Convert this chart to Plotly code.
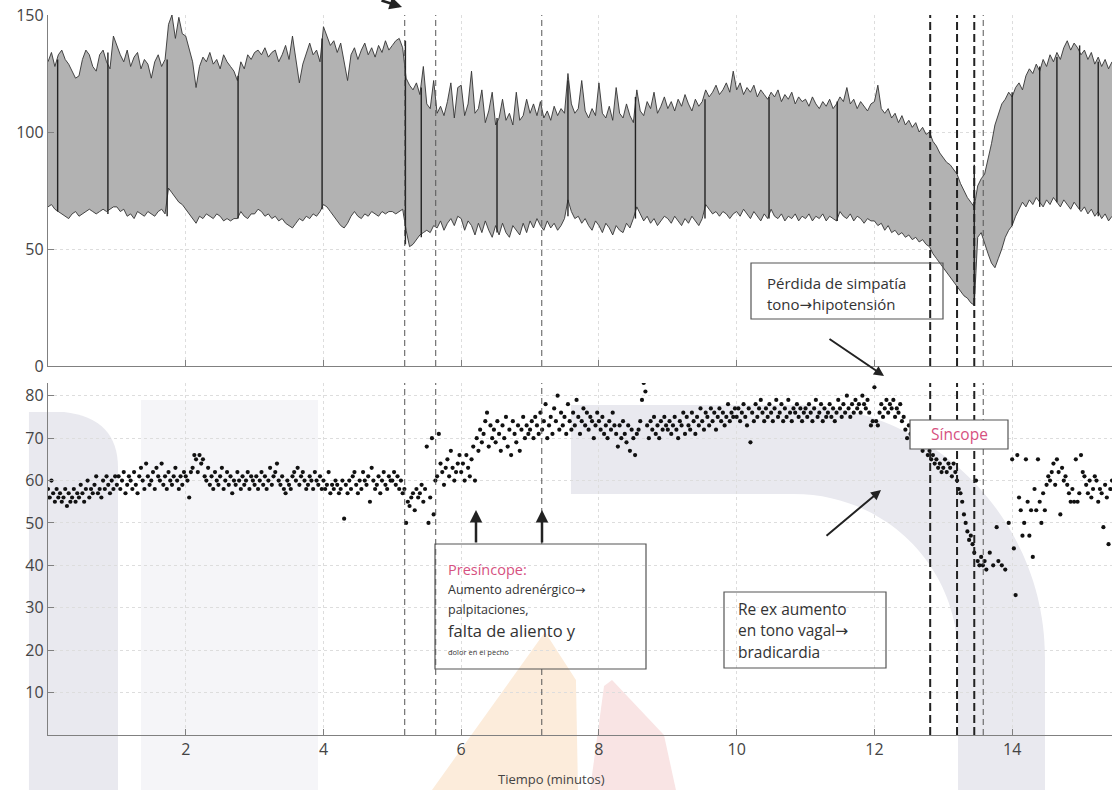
import numpy as np
import plotly.graph_objects as go

FONT = "Open Sans, Noto Sans, DejaVu Sans, sans-serif"
W, H = 1112, 790
ML, MR, MT, MB = 48, 0, 15, 55
PW, PH = W - ML - MR, H - MT - MB

# ---------------- data ----------------
bp_step = 0.05  # minutes between envelope samples
sys_bp = [
    130,134,128,133,135,131,129,126,123,124,131,135,133,128,126,133,135,130,127,141,
    137,133,130,135,128,132,134,127,131,129,123,130,133,128,131,146,150,140,149,142,
    141,136,130,119,128,132,130,134,129,131,127,133,130,128,126,122,130,127,133,131,
    134,135,133,136,132,134,135,130,133,137,131,141,130,121,129,134,138,133,135,130,
    145,141,137,139,134,138,130,122,133,136,131,135,138,133,136,132,137,134,139,135,
    137,139,140,136,123,120,118,121,116,128,112,110,122,108,111,107,113,121,106,119,
    120,107,112,126,108,110,118,104,109,117,103,106,114,105,108,103,117,105,107,114,
    108,112,107,113,106,109,105,111,107,110,108,125,112,108,110,122,109,106,110,107,
    121,108,106,111,105,119,108,106,112,107,104,118,109,107,113,110,117,108,111,115,
    110,113,109,114,111,116,112,109,114,111,113,118,115,117,120,116,118,121,117,126,
    118,121,116,119,117,120,115,118,116,114,117,115,118,113,116,114,117,112,115,113,
    114,111,115,112,110,113,111,114,110,112,115,113,119,112,114,110,113,111,109,112,
    113,120,110,108,110,106,108,104,107,103,105,102,104,100,102,99,100,96,94,91,
    89,87,86,84,82,78,75,72,70,68,77,80,82,88,95,103,108,112,114,117,
    115,119,121,118,124,127,125,129,126,131,128,133,130,134,131,136,139,135,138,136,
    133,135,131,134,129,132,128,131,127,130,
]
dia_bp = [
    68,69,67,66,65,64,63,65,66,64,65,66,67,66,65,66,67,66,67,68,
    68,66,67,64,65,63,66,65,64,66,65,64,66,67,65,76,74,72,70,69,
    67,65,63,61,64,63,65,64,63,65,64,62,63,62,63,63,66,64,63,65,
    65,67,66,64,65,63,64,62,63,61,60,59,61,63,62,64,63,65,64,66,
    69,68,66,64,62,60,59,61,64,66,64,63,65,64,66,65,64,66,65,66,
    66,65,66,67,58,51,52,54,56,57,58,57,60,59,62,58,61,63,60,64,
    63,58,62,60,56,61,57,62,58,55,60,56,61,57,55,60,58,56,61,57,
    62,59,63,60,58,62,59,61,58,60,63,71,66,63,64,61,63,60,58,62,
    60,57,61,59,56,60,58,57,61,59,63,68,65,62,64,61,63,60,62,64,
    63,61,64,62,60,63,61,64,62,60,63,69,67,65,66,64,66,65,63,65,
    66,64,67,65,63,66,64,62,65,63,67,64,63,65,62,64,63,65,62,64,
    63,65,62,64,63,65,62,64,63,62,66,64,63,65,62,64,63,61,63,62,
    62,60,61,58,60,57,58,56,57,55,56,54,55,53,54,52,51,48,46,44,
    42,40,38,36,34,32,30,29,27,26,55,57,52,48,44,42,46,50,55,58,
    60,64,67,70,68,71,69,72,70,68,71,69,72,70,68,71,69,67,70,68,
    66,68,65,67,64,66,63,65,62,64,
]
# calibration drops of the pressure signal (minute, top, bottom)
drop_t  = [0.14, 0.87, 1.73, 2.76, 3.98, 5.19, 5.42, 6.52, 7.55, 8.53, 9.54, 10.47, 11.46, 13.45, 14.00, 14.40, 14.65, 14.98, 15.25]
drop_hi = [131, 134, 131, 124, 140, 139, 119, 106, 122, 115, 114, 115, 113, 86, 117, 128, 132, 137, 130]
drop_lo = [66, 65, 64, 63, 67, 52, 55, 57, 64, 63, 63, 63, 62, 26, 60, 68, 70, 67, 64]

hr_step = 0.025  # minutes between heart-rate samples
hr = [
    58,56,60,57,55,58,56,57,55,56,58,54,57,55,56,58,55,57,56,59,57,55,58,60,56,58,57,59,61,57,58,56,60,58,61,59,57,60,58,61,
    59,61,58,60,62,57,59,61,60,58,62,59,57,61,63,60,58,64,61,59,60,62,58,63,61,60,64,59,61,58,62,60,59,61,63,60,58,61,59,62,
    61,60,56,62,63,66,65,62,66,64,65,61,60,63,59,61,58,62,60,59,61,63,58,60,62,59,61,57,60,59,62,60,58,61,59,60,62,58,61,60,
    59,61,58,60,62,59,61,58,60,63,59,61,62,64,60,59,61,58,57,60,59,58,61,62,60,63,59,61,62,60,58,59,61,60,58,62,60,59,61,58,
    60,58,59,62,57,59,58,60,59,57,58,60,51,59,57,60,58,61,62,59,57,60,58,62,60,59,61,55,63,60,58,59,61,57,60,62,59,58,61,60,
    60,62,59,61,58,60,57,58,50,55,54,56,57,53,58,56,57,59,55,58,68,50,56,70,52,60,61,71,64,62,59,63,65,61,67,63,60,62,64,66,
    62,64,60,66,63,61,65,68,60,70,67,72,69,71,74,76,68,73,70,72,69,74,71,67,73,70,75,68,72,66,74,71,69,73,67,72,75,70,73,71,
    72,74,70,75,73,71,76,72,74,78,70,73,75,71,77,74,80,72,76,73,75,71,78,74,72,76,73,79,75,71,74,77,73,76,72,75,74,70,73,76,
    74,72,75,71,73,70,74,72,76,73,71,68,73,70,74,71,69,73,67,72,70,66,71,72,74,79,83,81,73,70,74,72,75,71,73,70,74,72,75,73,
    72,74,71,73,75,72,70,74,73,76,71,75,73,72,76,74,71,75,73,77,74,72,76,75,73,77,74,76,72,75,77,74,76,73,75,78,74,76,75,77,
    75,77,74,76,78,75,73,77,69,76,74,78,75,77,79,76,74,77,75,78,76,74,77,79,75,76,78,74,77,75,79,76,74,77,76,78,75,77,74,76,
    77,75,78,76,74,77,79,75,76,78,74,77,75,76,78,75,77,74,76,79,77,75,78,76,80,77,75,78,76,79,77,78,76,80,78,77,79,76,73,74,
    82,74,73,76,78,75,77,79,76,78,77,79,75,77,76,78,74,75,72,70,73,71,69,72,70,68,71,69,67,70,68,66,67,65,66,64,65,63,64,62,
    63,65,62,64,63,61,64,62,60,58,57,55,52,50,48,46,47,45,43,60,41,40,42,40,41,39,None,43,None,40,None,49,41,None,40,None,39,None,50,None,
    65,44,33,66,56,53,47,50,65,55,47,53,42,58,53,65,55,50,57,53,59,61,60,62,64,59,65,62,52,63,60,61,59,57,55,58,55,65,55,57,
    66,62,61,59,57,60,56,58,61,60,55,58,57,49,59,56,45,58,60,
]

events_thin = [5.18, 5.63, 13.58]
event_split = 7.17          # thin dashed line interrupted by the text box
events_thick = [12.81, 13.20, 13.45]
x_ticks = [2, 4, 6, 8, 10, 12, 14]
bp_ticks = [0, 50, 100, 150]
hr_ticks = [10, 20, 30, 40, 50, 60, 70, 80]

# ---------------- helpers ----------------
def fx(x):
    return (x - ML) / PW

def fy(y):
    return (H - MB - y) / PH

def pt(x, y):
    return f"{fx(x):.4f},{fy(y):.4f}"

t_bp = np.arange(len(sys_bp)) * bp_step
t_hr = np.arange(len(hr)) * hr_step

fig = go.Figure()

# pressure envelope
fig.add_trace(go.Scatter(x=t_bp, y=dia_bp, mode="lines",
                         line=dict(color="#333333", width=0.9), xaxis="x", yaxis="y",
                         hoverinfo="skip"))
fig.add_trace(go.Scatter(x=t_bp, y=sys_bp, mode="lines", fill="tonexty",
                         fillcolor="#b2b2b2", line=dict(color="#333333", width=0.9),
                         xaxis="x", yaxis="y", hoverinfo="skip"))
dx, dy = [], []
for t, a, b in zip(drop_t, drop_hi, drop_lo):
    dx += [t, t, None]
    dy += [a, b, None]
fig.add_trace(go.Scatter(x=dx, y=dy, mode="lines", line=dict(color="#222222", width=1.4),
                         xaxis="x", yaxis="y", hoverinfo="skip"))

# heart rate
fig.add_trace(go.Scatter(x=t_hr, y=hr, mode="markers",
                         marker=dict(color="#111111", size=4.2, line=dict(width=0)),
                         xaxis="x2", yaxis="y2", hoverinfo="skip"))

shapes = []
# ---- watermark (light logo shapes) ----
wm = [
    ("M " + pt(29, 412) + " L " + pt(64, 412) + " Q " + pt(118, 418) + " " + pt(118, 468)
     + " L " + pt(118, 790) + " L " + pt(29, 790) + " Z", "#e9e9ef"),
    ("M " + pt(141, 400) + " L " + pt(318, 400) + " L " + pt(318, 790) + " L " + pt(141, 790) + " Z", "#f5f5f8"),
    ("M " + pt(571, 405) + " L " + pt(794, 405) + " C " + pt(932, 405) + " " + pt(1045, 519) + " " + pt(1045, 657)
     + " L " + pt(1045, 790) + " L " + pt(958, 790) + " L " + pt(958, 657)
     + " C " + pt(958, 566) + " " + pt(885, 494) + " " + pt(794, 494) + " L " + pt(571, 494) + " Z", "#e9e9ef"),
    ("M " + pt(432, 790) + " L " + pt(545, 632) + " L " + pt(576, 680) + " L " + pt(578, 790) + " Z", "#fcecdb"),
    ("M " + pt(590, 790) + " L " + pt(604, 686) + " L " + pt(612, 680) + " L " + pt(664, 735)
     + " L " + pt(676, 790) + " Z", "#f9e4e4"),
]
for path, col in wm:
    shapes.append(dict(type="path", path=path, xref="paper", yref="paper",
                       fillcolor=col, line=dict(width=0), layer="below"))

# ---- event lines ----
for xa, ya in (("x", "y domain"), ("x2", "y2 domain")):
    for t in events_thin:
        shapes.append(dict(type="line", xref=xa, yref=ya, x0=t, x1=t, y0=0, y1=1,
                           line=dict(color="#555555", width=1, dash="6px,4px")))
    for t in events_thick:
        shapes.append(dict(type="line", xref=xa, yref=ya, x0=t, x1=t, y0=0, y1=1,
                           line=dict(color="#222222", width=2, dash="8px,4px")))
shapes.append(dict(type="line", xref="x", yref="y domain", x0=event_split, x1=event_split, y0=0, y1=1,
                   line=dict(color="#555555", width=1, dash="6px,4px")))
for y0, y1 in ((fy(735), fy(669)), (fy(544), fy(383))):
    shapes.append(dict(type="line", xref="x2", yref="paper", x0=event_split, x1=event_split, y0=y0, y1=y1,
                       line=dict(color="#555555", width=1, dash="6px,4px")))

# ---- boxes ----
def box(x0, y0, x1, y1, fill="rgba(0,0,0,0)"):
    return dict(type="rect", xref="paper", yref="paper", x0=fx(x0), x1=fx(x1), y0=fy(y1), y1=fy(y0),
                line=dict(color="#555555", width=1.2), fillcolor=fill, layer="above")

shapes += [box(751, 263, 943, 319), box(910, 420, 1008, 449, "white"),
           box(724, 592, 886, 668), box(435, 544, 646, 669)]

def txt(x, y, s, size, color="#333333", anchor="left"):
    return dict(x=fx(x), y=fy(y), xref="paper", yref="paper", text=s, showarrow=False,
                xanchor=anchor, yanchor="middle", font=dict(size=size, color=color, family=FONT))

def arrow(hx, hy, tx, ty, w):
    return dict(x=fx(hx), y=fy(hy), xref="paper", yref="paper", ax=tx - hx, ay=ty - hy,
                axref="pixel", ayref="pixel", text="", showarrow=True, arrowhead=2,
                arrowsize=1, arrowwidth=w, arrowcolor="#222222")

PINK = "#d6517f"
annotations = [
    txt(765, 283, "Pérdida de simpatía", 15),
    txt(765, 304, "tono→hipotensión", 15),
    txt(959, 434, "Síncope", 15.5, PINK, "center"),
    txt(736, 609, "Re ex aumento", 15.5),
    txt(736, 630, "en tono vagal→", 15.5),
    txt(736, 652, "bradicardia", 15.5),
    txt(446, 569, "Presíncope:", 14.5, PINK),
    txt(446, 589, "Aumento adrenérgico→", 12.5),
    txt(446, 609, "palpitaciones,", 12.5),
    txt(446, 630, "falta de aliento y", 16.5),
    txt(446, 652, "dolor en el pecho", 7.5),
    txt(551, 779, "Tiempo (minutos)", 13, "#444444", "center"),
    arrow(884, 376, 828, 338, 2),
    arrow(881, 490, 825, 537, 2),
    arrow(476, 510, 476, 544, 2.5),
    arrow(542, 510, 542, 544, 2.5),
    arrow(402, 7, 380, -10, 2.5),
]

axis_common = dict(showline=True, linecolor="#808080", linewidth=1.2, ticks="inside", ticklen=6,
                   tickcolor="#808080", showgrid=True, gridcolor="#dddddd", griddash="dot",
                   gridwidth=1, zeroline=False, mirror=False, automargin=False,
                   tickfont=dict(size=16, color="#444444", family=FONT))

fig.update_layout(
    width=W, height=H, margin=dict(l=ML, r=MR, t=MT, b=MB, autoexpand=False),
    paper_bgcolor="white", plot_bgcolor="rgba(0,0,0,0)", showlegend=False,
    font=dict(family=FONT, size=16, color="#444444"),
    xaxis=dict(axis_common, domain=[0, 1], anchor="y", range=[0, 15.45], tickvals=x_ticks,
               showticklabels=False),
    yaxis=dict(axis_common, domain=[fy(366), fy(15)], anchor="x", range=[0, 150], tickvals=bp_ticks),
    xaxis2=dict(axis_common, domain=[0, 1], anchor="y2", range=[0, 15.45], tickvals=x_ticks),
    yaxis2=dict(axis_common, domain=[fy(735), fy(383)], anchor="x2", range=[0, 83], tickvals=hr_ticks),
    shapes=shapes, annotations=annotations,
)

fig.write_html("out.html", config={"displayModeBar": False, "staticPlot": True},
               post_script="document.body.style.margin='0';document.body.style.overflow='hidden';")
